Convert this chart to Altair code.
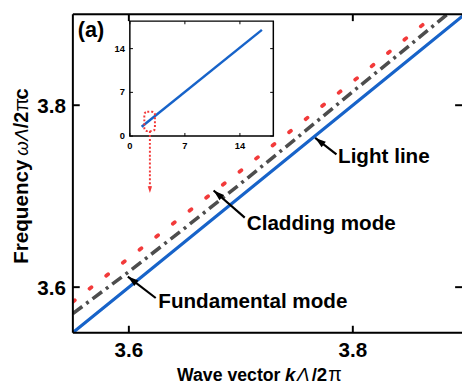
import math
import altair as alt
import pandas as pd

# ---------------- data ----------------
k_vals = [3.55, 3.60, 3.65, 3.70, 3.75, 3.80, 3.85, 3.90]
light_line = [3.55, 3.60, 3.65, 3.70, 3.75, 3.80, 3.85, 3.90]
fundamental_mode = [3.571, 3.617, 3.665, 3.714, 3.764, 3.815, 3.865, 3.916]
cladding_mode = [3.584, 3.632, 3.680, 3.728, 3.777, 3.826, 3.876, 3.926]

x_ticks = [3.6, 3.8]
x_tick_labels = ["3.6", "3.8"]
y_ticks = [3.6, 3.8]
y_tick_labels = ["3.6", "3.8"]

inset_k = [1.5, 16.8]
inset_w = [1.5, 17.0]
inset_ticks = [0, 7, 14]
inset_tick_labels = ["0", "7", "14"]
zoom_box_k = [1.84, 3.19]
zoom_box_w = [0.8, 3.9]
zoom_arrow_k = [2.55, 2.55]
zoom_arrow_w = [0.8, -9.1]

ann_labels = ["Light line", "Cladding mode", "Fundamental mode"]
ann_text_k = [3.7868, 3.7053, 3.6263]
ann_text_w = [3.7362, 3.6627, 3.5773]
ann_tail_k = [3.7854, 3.7035, 3.6240]
ann_tail_w = [3.7459, 3.6764, 3.5881]
ann_head_k = [3.7664, 3.6757, 3.5991]
ann_head_w = [3.7640, 3.7063, 3.6116]

# ---------------- layout ----------------
W, H = 396, 324
X_DOM = [3.55, 3.8975]
Y_DOM = [3.55, 3.90]
IX_DOM = [0, 18.25]
IY_DOM = [0, 18.4]
IX_RANGE = [58, 204]
IY_RANGE = [124, 7]

FONT = "Liberation Sans"
BLUE = "#1763c9"
GREY = "#4d4d4d"
RED = "#f23a3a"
ARROW = "M0,0L0.7,2.2L-0.7,2.2Z"

px_k = W / (X_DOM[1] - X_DOM[0])
px_w = H / (Y_DOM[1] - Y_DOM[0])

xs = alt.Scale(domain=X_DOM, nice=False, zero=False)
ys = alt.Scale(domain=Y_DOM, nice=False, zero=False)
ixs = alt.Scale(domain=IX_DOM, range=IX_RANGE, nice=False, zero=False)
iys = alt.Scale(domain=IY_DOM, range=IY_RANGE, nice=False, zero=False)


def X(f):
    return alt.X(f, type="quantitative", scale=xs, axis=None)


def Y(f):
    return alt.Y(f, type="quantitative", scale=ys, axis=None)


def IX(f):
    return alt.X(f, type="quantitative", scale=ixs, axis=None)


def IY(f):
    return alt.Y(f, type="quantitative", scale=iys, axis=None)


lines_df = pd.DataFrame({"k": k_vals, "light": light_line,
                         "fund": fundamental_mode, "clad": cladding_mode})

light = alt.Chart(lines_df).mark_line(color=BLUE, strokeWidth=3.2, clip=True).encode(
    x=X("k"), y=Y("light"))
fund = alt.Chart(lines_df).mark_line(color=GREY, strokeWidth=3.6, strokeDash=[12, 5, 3, 5],
                                     clip=True).encode(x=X("k"), y=Y("fund"))
clad = alt.Chart(lines_df).mark_line(color=RED, strokeWidth=3.8, strokeDash=[2.5, 19],
                                     strokeCap="round", clip=True).encode(
    x=X("k"), y=Y("clad"))

# frame (left, top, bottom)
frame_df = pd.DataFrame({
    "x": [X_DOM[0], X_DOM[0], X_DOM[0]],
    "x2": [X_DOM[0], X_DOM[1], X_DOM[1]],
    "y": [Y_DOM[0], Y_DOM[1], Y_DOM[0]],
    "y2": [Y_DOM[1], Y_DOM[1], Y_DOM[0]],
})
frame = alt.Chart(frame_df).mark_rule(color="black", strokeWidth=2).encode(
    x=X("x"), x2="x2", y=Y("y"), y2="y2")

# inward ticks of the main plot
tl = 7
tick_rows = []
for t in x_ticks:
    tick_rows.append((t, t, Y_DOM[0], Y_DOM[0] + tl / px_w))
    tick_rows.append((t, t, Y_DOM[1], Y_DOM[1] - tl / px_w))
for t in y_ticks:
    tick_rows.append((X_DOM[0], X_DOM[0] + tl / px_k, t, t))
    tick_rows.append((X_DOM[1], X_DOM[1] - tl / px_k, t, t))
ticks_df = pd.DataFrame(tick_rows, columns=["x", "x2", "y", "y2"])
ticks = alt.Chart(ticks_df).mark_rule(color="black", strokeWidth=2).encode(
    x=X("x"), x2="x2", y=Y("y"), y2="y2")

xlab = alt.Chart(pd.DataFrame({"v": x_ticks, "t": x_tick_labels})).mark_text(
    font=FONT, fontSize=21, fontWeight="bold", align="center", baseline="alphabetic",
    color="black").encode(x=X("v"), y=alt.value(349), text="t:N")
ylab = alt.Chart(pd.DataFrame({"v": y_ticks, "t": y_tick_labels})).mark_text(
    font=FONT, fontSize=21, fontWeight="bold", align="right", baseline="alphabetic",
    dy=7.5, color="black").encode(x=alt.value(-7), y=Y("v"), text="t:N")


def piece(text, x, y, size, weight, style, angle=0):
    return alt.Chart(pd.DataFrame({"t": [text]})).mark_text(
        font=FONT, fontSize=size, fontWeight=weight, fontStyle=style, align="left",
        baseline="alphabetic", angle=angle, color="black").encode(
        x=alt.value(x), y=alt.value(y), text="t:N")


TY = 373
xtitle = [
    piece("Wave vector", 106, TY, 18, "bold", "normal"),
    piece("k", 216, TY, 19, "bold", "italic"),
    piece("Λ", 228, TY, 19, "normal", "italic"),
    piece("/2", 243, TY, 19, "bold", "normal"),
    piece("π", 260, TY, 20, "normal", "normal"),
]
TX = -46
ytitle = [
    piece("Frequency", TX, 254, 21, "bold", "normal", 270),
    piece("ω", TX, 144, 19, "normal", "italic", 270),
    piece("Λ", TX, 129, 19, "normal", "italic", 270),
    piece("/2", TX, 116, 20, "bold", "normal", 270),
    piece("π", TX, 99, 20, "normal", "normal", 270),
    piece("c", TX, 87, 21, "bold", "normal", 270),
]
panel = piece("(a)", 5, 23, 22, "bold", "normal")

# annotations
ang = []
for tk, tw, hk, hw in zip(ann_tail_k, ann_tail_w, ann_head_k, ann_head_w):
    dx = (hk - tk) * px_k
    dy = -(hw - tw) * px_w
    ang.append(math.degrees(math.atan2(dx, -dy)) % 360)
ann_df = pd.DataFrame({"label": ann_labels, "tk": ann_text_k, "tw": ann_text_w,
                       "ak": ann_tail_k, "aw": ann_tail_w,
                       "hk": ann_head_k, "hw": ann_head_w, "ang": ang})
ann_text = alt.Chart(ann_df).mark_text(
    font=FONT, fontSize=21, fontWeight="bold", align="left", baseline="alphabetic",
    color="black").encode(x=X("tk"), y=Y("tw"), text="label:N")
ann_line = alt.Chart(ann_df).mark_rule(color="black", strokeWidth=2.2).encode(
    x=X("ak"), x2="hk", y=Y("aw"), y2="hw")
ann_head = alt.Chart(ann_df).mark_point(
    shape=ARROW, filled=True, color="black", opacity=1, size=100).encode(
    x=X("hk"), y=Y("hw"), angle=alt.Angle("ang:Q", scale=None))

main = alt.layer(light, fund, clad, frame, ticks, xlab, ylab, ann_line, ann_head,
                 ann_text, *xtitle, *ytitle, panel)

# ---------------- inset ----------------
inset_frame = alt.Chart(pd.DataFrame({"x": [IX_DOM[0]], "x2": [IX_DOM[1]],
                                      "y": [IY_DOM[0]], "y2": [IY_DOM[1]]})).mark_rect(
    fill="white", stroke="black", strokeWidth=1.5).encode(
    x=IX("x"), x2="x2", y=IY("y"), y2="y2")

irows = []
for t in inset_ticks:
    irows.append((t, t, IY_DOM[0], IY_DOM[0] + 0.5))
    irows.append((t, t, IY_DOM[1], IY_DOM[1] - 0.5))
    irows.append((IX_DOM[0], IX_DOM[0] + 0.4, t, t))
    irows.append((IX_DOM[1], IX_DOM[1] - 0.4, t, t))
iticks = alt.Chart(pd.DataFrame(irows, columns=["x", "x2", "y", "y2"])).mark_rule(
    color="black", strokeWidth=1).encode(x=IX("x"), x2="x2", y=IY("y"), y2="y2")

ilab_df = pd.DataFrame({"v": inset_ticks, "t": inset_tick_labels})
ixlab = alt.Chart(ilab_df).mark_text(
    font=FONT, fontSize=9.5, fontWeight="bold", align="center", baseline="middle",
    color="black").encode(x=IX("v"), y=alt.value(134), text="t:N")
iylab = alt.Chart(ilab_df).mark_text(
    font=FONT, fontSize=9.5, fontWeight="bold", align="right", baseline="middle",
    color="black").encode(x=alt.value(53), y=IY("v"), text="t:N")

iline = alt.Chart(pd.DataFrame({"k": inset_k, "w": inset_w})).mark_line(
    color=BLUE, strokeWidth=2.5).encode(x=IX("k"), y=IY("w"))

zbox = alt.Chart(pd.DataFrame({"x": [zoom_box_k[0]], "x2": [zoom_box_k[1]],
                               "y": [zoom_box_w[0]], "y2": [zoom_box_w[1]]})).mark_rect(
    fillOpacity=0, stroke=RED, strokeWidth=2, strokeDash=[2, 2], cornerRadius=3).encode(
    x=IX("x"), x2="x2", y=IY("y"), y2="y2")

zarrow = alt.Chart(pd.DataFrame({"x": [zoom_arrow_k[0]], "y": [zoom_arrow_w[0]],
                                 "y2": [zoom_arrow_w[1] + 0.6]})).mark_rule(
    color=RED, strokeWidth=2, strokeDash=[2, 2]).encode(x=IX("x"), y=IY("y"), y2="y2")
zhead = alt.Chart(pd.DataFrame({"x": [zoom_arrow_k[1]], "y": [zoom_arrow_w[1]]})).mark_point(
    shape=ARROW, filled=True, color=RED, opacity=1, size=40, angle=180).encode(
    x=IX("x"), y=IY("y"))

inset = alt.layer(inset_frame, iline, iticks, zbox, ixlab, iylab, zarrow, zhead)

chart = alt.layer(main, inset).resolve_scale(x="independent", y="independent").properties(
    width=W, height=H,
    padding={"left": 66, "top": 3, "right": 0, "bottom": 55},
    autosize=alt.AutoSizeParams(type="none"),
).configure_view(stroke=None).configure(background="white")

chart.save("out.html", embed_options={"renderer": "svg", "actions": False})
